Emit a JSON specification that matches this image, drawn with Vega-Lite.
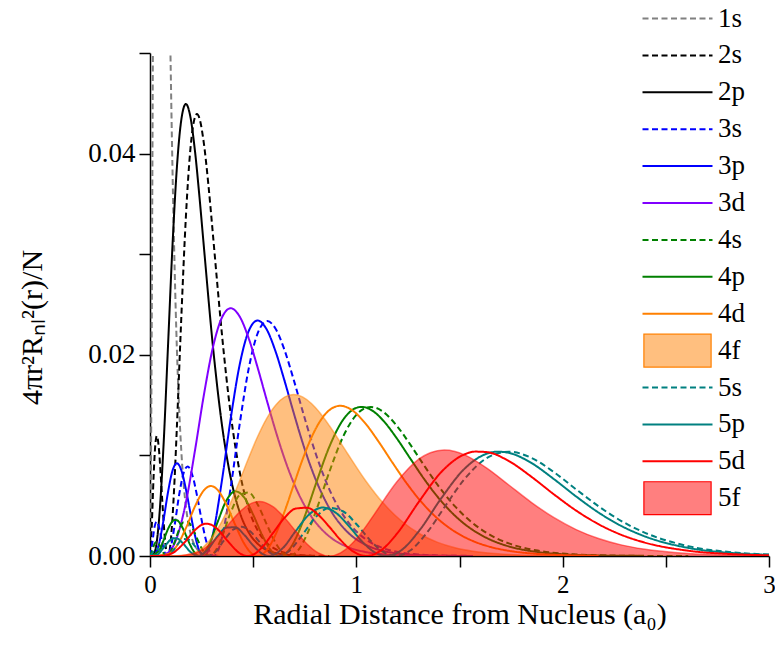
{
  "$schema": "https://vega.github.io/schema/vega-lite/v6.json",
  "width": 619,
  "height": 503,
  "autosize": {"type": "none"},
  "padding": {"left": 150, "top": 53, "right": 6, "bottom": 94},
  "background": "white",
  "config": {
    "view": {"stroke": null},
    "font": "Liberation Serif",
    "axis": {
      "grid": false,
      "domainColor": "black",
      "domainWidth": 1.5,
      "tickColor": "black",
      "tickWidth": 1.5,
      "tickSize": 11,
      "labelFont": "Liberation Serif",
      "labelFontSize": 27,
      "labelColor": "black",
      "titleFont": "Liberation Serif",
      "titleFontSize": 30,
      "titleFontWeight": "normal",
      "titleColor": "black"
    }
  },
  "data": {
    "values": [
      {"orbital": "1s", "r": 0, "p": 0},
      {"orbital": "1s", "r": 0.0043, "p": 0.00753},
      {"orbital": "1s", "r": 0.0087, "p": 0.02467},
      {"orbital": "1s", "r": 0.013, "p": 0.04544},
      {"orbital": "1s", "r": 0.0174, "p": 0.06614},
      {"orbital": "1s", "r": 0.0217, "p": 0.0846},
      {"orbital": "1s", "r": 0.0326, "p": 0.1155},
      {"orbital": "1s", "r": 0.0435, "p": 0.1245},
      {"orbital": "1s", "r": 0.0652, "p": 0.1031},
      {"orbital": "1s", "r": 0.087, "p": 0.0674},
      {"orbital": "1s", "r": 0.0978, "p": 0.05174},
      {"orbital": "1s", "r": 0.1087, "p": 0.03874},
      {"orbital": "1s", "r": 0.1196, "p": 0.02843},
      {"orbital": "1s", "r": 0.1304, "p": 0.02052},
      {"orbital": "1s", "r": 0.1413, "p": 0.01461},
      {"orbital": "1s", "r": 0.1522, "p": 0.01028},
      {"orbital": "1s", "r": 0.163, "p": 0.007156},
      {"orbital": "1s", "r": 0.1739, "p": 0.004938},
      {"orbital": "1s", "r": 0.1957, "p": 0.002299},
      {"orbital": "1s", "r": 0.2174, "p": 0.001044},
      {"orbital": "1s", "r": 0.2609, "p": 0.0002035},
      {"orbital": "1s", "r": 0.3043, "p": 0.0000375},
      {"orbital": "1s", "r": 0.3478, "p": 0.0000066},

      {"orbital": "2s", "r": 0, "p": 0},
      {"orbital": "2s", "r": 0.0087, "p": 0.003051},
      {"orbital": "2s", "r": 0.0174, "p": 0.007894},
      {"orbital": "2s", "r": 0.0261, "p": 0.011133},
      {"orbital": "2s", "r": 0.0332, "p": 0.011941},
      {"orbital": "2s", "r": 0.0435, "p": 0.010577},
      {"orbital": "2s", "r": 0.0522, "p": 0.007981},
      {"orbital": "2s", "r": 0.0609, "p": 0.005003},
      {"orbital": "2s", "r": 0.0696, "p": 0.002378},
      {"orbital": "2s", "r": 0.0783, "p": 0.000616},
      {"orbital": "2s", "r": 0.087, "p": 0},
      {"orbital": "2s", "r": 0.0978, "p": 0.000959},
      {"orbital": "2s", "r": 0.1087, "p": 0.003687},
      {"orbital": "2s", "r": 0.1196, "p": 0.007818},
      {"orbital": "2s", "r": 0.1304, "p": 0.012882},
      {"orbital": "2s", "r": 0.1522, "p": 0.023929},
      {"orbital": "2s", "r": 0.1739, "p": 0.033701},
      {"orbital": "2s", "r": 0.1957, "p": 0.040422},
      {"orbital": "2s", "r": 0.2174, "p": 0.043586},
      {"orbital": "2s", "r": 0.2277, "p": 0.043927},
      {"orbital": "2s", "r": 0.2391, "p": 0.043539},
      {"orbital": "2s", "r": 0.2609, "p": 0.041049},
      {"orbital": "2s", "r": 0.2826, "p": 0.03698},
      {"orbital": "2s", "r": 0.3043, "p": 0.032115},
      {"orbital": "2s", "r": 0.3261, "p": 0.027057},
      {"orbital": "2s", "r": 0.3478, "p": 0.022221},
      {"orbital": "2s", "r": 0.3913, "p": 0.014082},
      {"orbital": "2s", "r": 0.4348, "p": 0.008354},
      {"orbital": "2s", "r": 0.4783, "p": 0.004706},
      {"orbital": "2s", "r": 0.5217, "p": 0.002544},
      {"orbital": "2s", "r": 0.5652, "p": 0.001329},
      {"orbital": "2s", "r": 0.6087, "p": 0.000675},
      {"orbital": "2s", "r": 0.6957, "p": 0.000162},
      {"orbital": "2s", "r": 0.7826, "p": 0.0000363},
      {"orbital": "2s", "r": 0.8696, "p": 0.0000077},

      {"orbital": "2p", "r": 0, "p": 0},
      {"orbital": "2p", "r": 0.0217, "p": 0.000363},
      {"orbital": "2p", "r": 0.0435, "p": 0.003526},
      {"orbital": "2p", "r": 0.0652, "p": 0.010825},
      {"orbital": "2p", "r": 0.087, "p": 0.020751},
      {"orbital": "2p", "r": 0.1087, "p": 0.030728},
      {"orbital": "2p", "r": 0.1304, "p": 0.038647},
      {"orbital": "2p", "r": 0.1522, "p": 0.043426},
      {"orbital": "2p", "r": 0.1739, "p": 0.044935},
      {"orbital": "2p", "r": 0.1957, "p": 0.043656},
      {"orbital": "2p", "r": 0.2174, "p": 0.040357},
      {"orbital": "2p", "r": 0.2391, "p": 0.035838},
      {"orbital": "2p", "r": 0.2609, "p": 0.030787},
      {"orbital": "2p", "r": 0.3043, "p": 0.020982},
      {"orbital": "2p", "r": 0.3478, "p": 0.013168},
      {"orbital": "2p", "r": 0.3913, "p": 0.00776},
      {"orbital": "2p", "r": 0.4348, "p": 0.004351},
      {"orbital": "2p", "r": 0.4783, "p": 0.002343},
      {"orbital": "2p", "r": 0.5217, "p": 0.001221},
      {"orbital": "2p", "r": 0.6087, "p": 0.000306},
      {"orbital": "2p", "r": 0.6957, "p": 0.0000707},
      {"orbital": "2p", "r": 0.7826, "p": 0.0000153},

      {"orbital": "3s", "r": 0, "p": 0},
      {"orbital": "3s", "r": 0.0109, "p": 0.001266},
      {"orbital": "3s", "r": 0.0217, "p": 0.002866},
      {"orbital": "3s", "r": 0.0322, "p": 0.003412},
      {"orbital": "3s", "r": 0.0435, "p": 0.002904},
      {"orbital": "3s", "r": 0.0543, "p": 0.001845},
      {"orbital": "3s", "r": 0.0652, "p": 0.000783},
      {"orbital": "3s", "r": 0.0761, "p": 0.000118},
      {"orbital": "3s", "r": 0.0827, "p": 0},
      {"orbital": "3s", "r": 0.0978, "p": 0.000601},
      {"orbital": "3s", "r": 0.1196, "p": 0.003074},
      {"orbital": "3s", "r": 0.1413, "p": 0.006087},
      {"orbital": "3s", "r": 0.163, "p": 0.008263},
      {"orbital": "3s", "r": 0.1822, "p": 0.008897},
      {"orbital": "3s", "r": 0.2065, "p": 0.007951},
      {"orbital": "3s", "r": 0.2283, "p": 0.005958},
      {"orbital": "3s", "r": 0.25, "p": 0.003599},
      {"orbital": "3s", "r": 0.2717, "p": 0.00154},
      {"orbital": "3s", "r": 0.2935, "p": 0.000269},
      {"orbital": "3s", "r": 0.3086, "p": 0},
      {"orbital": "3s", "r": 0.3261, "p": 0.000359},
      {"orbital": "3s", "r": 0.3478, "p": 0.001747},
      {"orbital": "3s", "r": 0.3913, "p": 0.006841},
      {"orbital": "3s", "r": 0.4348, "p": 0.01314},
      {"orbital": "3s", "r": 0.4783, "p": 0.018628},
      {"orbital": "3s", "r": 0.5217, "p": 0.02213},
      {"orbital": "3s", "r": 0.5683, "p": 0.023356},
      {"orbital": "3s", "r": 0.6087, "p": 0.022593},
      {"orbital": "3s", "r": 0.6522, "p": 0.020459},
      {"orbital": "3s", "r": 0.6957, "p": 0.017572},
      {"orbital": "3s", "r": 0.7391, "p": 0.014452},
      {"orbital": "3s", "r": 0.7826, "p": 0.011464},
      {"orbital": "3s", "r": 0.8696, "p": 0.006604},
      {"orbital": "3s", "r": 0.9565, "p": 0.003465},
      {"orbital": "3s", "r": 1.0435, "p": 0.001691},
      {"orbital": "3s", "r": 1.1304, "p": 0.000778},
      {"orbital": "3s", "r": 1.2174, "p": 0.000341},
      {"orbital": "3s", "r": 1.3043, "p": 0.000144},
      {"orbital": "3s", "r": 1.4348, "p": 0.0000369},
      {"orbital": "3s", "r": 1.5652, "p": 0.0000089},

      {"orbital": "3p", "r": 0, "p": 0},
      {"orbital": "3p", "r": 0.0217, "p": 0.000127},
      {"orbital": "3p", "r": 0.0435, "p": 0.0012},
      {"orbital": "3p", "r": 0.0652, "p": 0.003526},
      {"orbital": "3p", "r": 0.087, "p": 0.006308},
      {"orbital": "3p", "r": 0.1087, "p": 0.008449},
      {"orbital": "3p", "r": 0.1304, "p": 0.009223},
      {"orbital": "3p", "r": 0.1522, "p": 0.008502},
      {"orbital": "3p", "r": 0.1739, "p": 0.006651},
      {"orbital": "3p", "r": 0.1957, "p": 0.004294},
      {"orbital": "3p", "r": 0.2174, "p": 0.002084},
      {"orbital": "3p", "r": 0.2391, "p": 0.000547},
      {"orbital": "3p", "r": 0.2609, "p": 0},
      {"orbital": "3p", "r": 0.2826, "p": 0.000548},
      {"orbital": "3p", "r": 0.3043, "p": 0.002111},
      {"orbital": "3p", "r": 0.3478, "p": 0.007395},
      {"orbital": "3p", "r": 0.3913, "p": 0.013683},
      {"orbital": "3p", "r": 0.4348, "p": 0.019035},
      {"orbital": "3p", "r": 0.4783, "p": 0.022357},
      {"orbital": "3p", "r": 0.5217, "p": 0.02341},
      {"orbital": "3p", "r": 0.5652, "p": 0.022533},
      {"orbital": "3p", "r": 0.6087, "p": 0.020324},
      {"orbital": "3p", "r": 0.6522, "p": 0.017404},
      {"orbital": "3p", "r": 0.6957, "p": 0.01428},
      {"orbital": "3p", "r": 0.7391, "p": 0.011306},
      {"orbital": "3p", "r": 0.7826, "p": 0.008683},
      {"orbital": "3p", "r": 0.8696, "p": 0.004748},
      {"orbital": "3p", "r": 0.9565, "p": 0.002393},
      {"orbital": "3p", "r": 1.0435, "p": 0.001131},
      {"orbital": "3p", "r": 1.1304, "p": 0.000507},
      {"orbital": "3p", "r": 1.2174, "p": 0.000218},
      {"orbital": "3p", "r": 1.3043, "p": 0.00009},
      {"orbital": "3p", "r": 1.4348, "p": 0.0000225},
      {"orbital": "3p", "r": 1.5652, "p": 0.0000053},

      {"orbital": "3d", "r": 0, "p": 0},
      {"orbital": "3d", "r": 0.0435, "p": 0.0000096},
      {"orbital": "3d", "r": 0.087, "p": 0.000315},
      {"orbital": "3d", "r": 0.1304, "p": 0.001845},
      {"orbital": "3d", "r": 0.1739, "p": 0.005321},
      {"orbital": "3d", "r": 0.2174, "p": 0.010421},
      {"orbital": "3d", "r": 0.2609, "p": 0.015977},
      {"orbital": "3d", "r": 0.3043, "p": 0.020685},
      {"orbital": "3d", "r": 0.3478, "p": 0.023662},
      {"orbital": "3d", "r": 0.3913, "p": 0.024629},
      {"orbital": "3d", "r": 0.4348, "p": 0.023795},
      {"orbital": "3d", "r": 0.4783, "p": 0.021641},
      {"orbital": "3d", "r": 0.5217, "p": 0.018727},
      {"orbital": "3d", "r": 0.5652, "p": 0.015543},
      {"orbital": "3d", "r": 0.6087, "p": 0.012448},
      {"orbital": "3d", "r": 0.6522, "p": 0.009668},
      {"orbital": "3d", "r": 0.6957, "p": 0.007311},
      {"orbital": "3d", "r": 0.7391, "p": 0.005401},
      {"orbital": "3d", "r": 0.7826, "p": 0.003907},
      {"orbital": "3d", "r": 0.8696, "p": 0.001938},
      {"orbital": "3d", "r": 0.9565, "p": 0.000905},
      {"orbital": "3d", "r": 1.0435, "p": 0.000402},
      {"orbital": "3d", "r": 1.1304, "p": 0.000171},
      {"orbital": "3d", "r": 1.2174, "p": 0.0000704},
      {"orbital": "3d", "r": 1.3043, "p": 0.0000281},
      {"orbital": "3d", "r": 1.4348, "p": 0.0000067},

      {"orbital": "4s", "r": 0, "p": 0},
      {"orbital": "4s", "r": 0.0109, "p": 0.000533},
      {"orbital": "4s", "r": 0.0217, "p": 0.001203},
      {"orbital": "4s", "r": 0.0317, "p": 0.001422},
      {"orbital": "4s", "r": 0.0435, "p": 0.001192},
      {"orbital": "4s", "r": 0.0543, "p": 0.000737},
      {"orbital": "4s", "r": 0.0652, "p": 0.000294},
      {"orbital": "4s", "r": 0.0814, "p": 0},
      {"orbital": "4s", "r": 0.0978, "p": 0.000307},
      {"orbital": "4s", "r": 0.1196, "p": 0.001398},
      {"orbital": "4s", "r": 0.1413, "p": 0.002619},
      {"orbital": "4s", "r": 0.163, "p": 0.003363},
      {"orbital": "4s", "r": 0.1848, "p": 0.003367},
      {"orbital": "4s", "r": 0.2065, "p": 0.002722},
      {"orbital": "4s", "r": 0.2283, "p": 0.001735},
      {"orbital": "4s", "r": 0.25, "p": 0.000774},
      {"orbital": "4s", "r": 0.2717, "p": 0.000144},
      {"orbital": "4s", "r": 0.2874, "p": 0},
      {"orbital": "4s", "r": 0.3152, "p": 0.000442},
      {"orbital": "4s", "r": 0.3478, "p": 0.001872},
      {"orbital": "4s", "r": 0.3913, "p": 0.004323},
      {"orbital": "4s", "r": 0.4348, "p": 0.00607},
      {"orbital": "4s", "r": 0.4783, "p": 0.006317},
      {"orbital": "4s", "r": 0.5217, "p": 0.005131},
      {"orbital": "4s", "r": 0.5652, "p": 0.003174},
      {"orbital": "4s", "r": 0.6087, "p": 0.001289},
      {"orbital": "4s", "r": 0.6522, "p": 0.000158},
      {"orbital": "4s", "r": 0.6747, "p": 0},
      {"orbital": "4s", "r": 0.7174, "p": 0.00056},
      {"orbital": "4s", "r": 0.7609, "p": 0.002154},
      {"orbital": "4s", "r": 0.8043, "p": 0.004458},
      {"orbital": "4s", "r": 0.8696, "p": 0.008383},
      {"orbital": "4s", "r": 0.9348, "p": 0.011816},
      {"orbital": "4s", "r": 1.0, "p": 0.014028},
      {"orbital": "4s", "r": 1.0435, "p": 0.014703},
      {"orbital": "4s", "r": 1.0696, "p": 0.014812},
      {"orbital": "4s", "r": 1.087, "p": 0.014773},
      {"orbital": "4s", "r": 1.1304, "p": 0.014329},
      {"orbital": "4s", "r": 1.1957, "p": 0.012957},
      {"orbital": "4s", "r": 1.2609, "p": 0.011092},
      {"orbital": "4s", "r": 1.3261, "p": 0.009073},
      {"orbital": "4s", "r": 1.3913, "p": 0.007143},
      {"orbital": "4s", "r": 1.4783, "p": 0.004936},
      {"orbital": "4s", "r": 1.5652, "p": 0.003249},
      {"orbital": "4s", "r": 1.6522, "p": 0.002051},
      {"orbital": "4s", "r": 1.7391, "p": 0.001249},
      {"orbital": "4s", "r": 1.8696, "p": 0.000561},
      {"orbital": "4s", "r": 2.0, "p": 0.000238},
      {"orbital": "4s", "r": 2.1739, "p": 0.0000702},
      {"orbital": "4s", "r": 2.3913, "p": 0.0000139},
      {"orbital": "4s", "r": 2.6087, "p": 0.0000025},

      {"orbital": "4p", "r": 0, "p": 0},
      {"orbital": "4p", "r": 0.0435, "p": 0.000528},
      {"orbital": "4p", "r": 0.0652, "p": 0.001528},
      {"orbital": "4p", "r": 0.087, "p": 0.002666},
      {"orbital": "4p", "r": 0.1087, "p": 0.003441},
      {"orbital": "4p", "r": 0.1196, "p": 0.003587},
      {"orbital": "4p", "r": 0.1304, "p": 0.003556},
      {"orbital": "4p", "r": 0.1522, "p": 0.00302},
      {"orbital": "4p", "r": 0.1739, "p": 0.002075},
      {"orbital": "4p", "r": 0.1957, "p": 0.001062},
      {"orbital": "4p", "r": 0.2174, "p": 0.0003},
      {"orbital": "4p", "r": 0.2403, "p": 0},
      {"orbital": "4p", "r": 0.2826, "p": 0.000973},
      {"orbital": "4p", "r": 0.3261, "p": 0.003292},
      {"orbital": "4p", "r": 0.3696, "p": 0.005489},
      {"orbital": "4p", "r": 0.413, "p": 0.006431},
      {"orbital": "4p", "r": 0.4565, "p": 0.005821},
      {"orbital": "4p", "r": 0.5, "p": 0.004104},
      {"orbital": "4p", "r": 0.5435, "p": 0.002085},
      {"orbital": "4p", "r": 0.587, "p": 0.000547},
      {"orbital": "4p", "r": 0.6292, "p": 0},
      {"orbital": "4p", "r": 0.6739, "p": 0.000611},
      {"orbital": "4p", "r": 0.7174, "p": 0.002243},
      {"orbital": "4p", "r": 0.7609, "p": 0.004569},
      {"orbital": "4p", "r": 0.8043, "p": 0.007191},
      {"orbital": "4p", "r": 0.8696, "p": 0.010877},
      {"orbital": "4p", "r": 0.9348, "p": 0.013509},
      {"orbital": "4p", "r": 1.0, "p": 0.014725},
      {"orbital": "4p", "r": 1.0261, "p": 0.014821},
      {"orbital": "4p", "r": 1.0435, "p": 0.014774},
      {"orbital": "4p", "r": 1.087, "p": 0.014313},
      {"orbital": "4p", "r": 1.1304, "p": 0.01346},
      {"orbital": "4p", "r": 1.1957, "p": 0.011707},
      {"orbital": "4p", "r": 1.2609, "p": 0.009705},
      {"orbital": "4p", "r": 1.3261, "p": 0.007727},
      {"orbital": "4p", "r": 1.3913, "p": 0.005944},
      {"orbital": "4p", "r": 1.4783, "p": 0.004001},
      {"orbital": "4p", "r": 1.5652, "p": 0.002576},
      {"orbital": "4p", "r": 1.6522, "p": 0.001596},
      {"orbital": "4p", "r": 1.7391, "p": 0.000956},
      {"orbital": "4p", "r": 1.8696, "p": 0.00042},
      {"orbital": "4p", "r": 2.0, "p": 0.000175},
      {"orbital": "4p", "r": 2.1739, "p": 0.0000507},
      {"orbital": "4p", "r": 2.3913, "p": 0.0000098},

      {"orbital": "4d", "r": 0, "p": 0},
      {"orbital": "4d", "r": 0.087, "p": 0.000184},
      {"orbital": "4d", "r": 0.1304, "p": 0.001028},
      {"orbital": "4d", "r": 0.1739, "p": 0.002767},
      {"orbital": "4d", "r": 0.2174, "p": 0.004901},
      {"orbital": "4d", "r": 0.2609, "p": 0.006522},
      {"orbital": "4d", "r": 0.2952, "p": 0.006958},
      {"orbital": "4d", "r": 0.3261, "p": 0.00661},
      {"orbital": "4d", "r": 0.3696, "p": 0.00514},
      {"orbital": "4d", "r": 0.413, "p": 0.0031},
      {"orbital": "4d", "r": 0.4565, "p": 0.001234},
      {"orbital": "4d", "r": 0.4891, "p": 0.000321},
      {"orbital": "4d", "r": 0.5217, "p": 0},
      {"orbital": "4d", "r": 0.5652, "p": 0.000566},
      {"orbital": "4d", "r": 0.6087, "p": 0.002142},
      {"orbital": "4d", "r": 0.6522, "p": 0.004422},
      {"orbital": "4d", "r": 0.6957, "p": 0.007023},
      {"orbital": "4d", "r": 0.7391, "p": 0.009576},
      {"orbital": "4d", "r": 0.7826, "p": 0.011785},
      {"orbital": "4d", "r": 0.8261, "p": 0.013458},
      {"orbital": "4d", "r": 0.8696, "p": 0.014503},
      {"orbital": "4d", "r": 0.9222, "p": 0.014932},
      {"orbital": "4d", "r": 0.9783, "p": 0.014511},
      {"orbital": "4d", "r": 1.0435, "p": 0.013187},
      {"orbital": "4d", "r": 1.1087, "p": 0.011342},
      {"orbital": "4d", "r": 1.1739, "p": 0.00932},
      {"orbital": "4d", "r": 1.2391, "p": 0.007368},
      {"orbital": "4d", "r": 1.3043, "p": 0.005635},
      {"orbital": "4d", "r": 1.3913, "p": 0.00377},
      {"orbital": "4d", "r": 1.4783, "p": 0.002414},
      {"orbital": "4d", "r": 1.5652, "p": 0.001489},
      {"orbital": "4d", "r": 1.6522, "p": 0.000889},
      {"orbital": "4d", "r": 1.7391, "p": 0.000516},
      {"orbital": "4d", "r": 1.8696, "p": 0.000218},
      {"orbital": "4d", "r": 2.0, "p": 0.0000877},
      {"orbital": "4d", "r": 2.1739, "p": 0.0000244},

      {"orbital": "4f", "r": 0, "p": 0},
      {"orbital": "4f", "r": 0.087, "p": 0.000001},
      {"orbital": "4f", "r": 0.1739, "p": 0.0000988},
      {"orbital": "4f", "r": 0.2609, "p": 0.000932},
      {"orbital": "4f", "r": 0.3478, "p": 0.003424},
      {"orbital": "4f", "r": 0.3913, "p": 0.005328},
      {"orbital": "4f", "r": 0.4348, "p": 0.007507},
      {"orbital": "4f", "r": 0.4783, "p": 0.00976},
      {"orbital": "4f", "r": 0.5217, "p": 0.011875},
      {"orbital": "4f", "r": 0.5652, "p": 0.013663},
      {"orbital": "4f", "r": 0.6087, "p": 0.014993},
      {"orbital": "4f", "r": 0.6522, "p": 0.015793},
      {"orbital": "4f", "r": 0.6957, "p": 0.016052},
      {"orbital": "4f", "r": 0.7391, "p": 0.015814},
      {"orbital": "4f", "r": 0.7826, "p": 0.015152},
      {"orbital": "4f", "r": 0.8261, "p": 0.014164},
      {"orbital": "4f", "r": 0.8696, "p": 0.012949},
      {"orbital": "4f", "r": 0.9565, "p": 0.010211},
      {"orbital": "4f", "r": 1.0435, "p": 0.007535},
      {"orbital": "4f", "r": 1.1304, "p": 0.005259},
      {"orbital": "4f", "r": 1.2174, "p": 0.0035},
      {"orbital": "4f", "r": 1.3043, "p": 0.002236},
      {"orbital": "4f", "r": 1.3913, "p": 0.001379},
      {"orbital": "4f", "r": 1.4783, "p": 0.000824},
      {"orbital": "4f", "r": 1.5652, "p": 0.000479},
      {"orbital": "4f", "r": 1.6522, "p": 0.000271},
      {"orbital": "4f", "r": 1.7391, "p": 0.000151},
      {"orbital": "4f", "r": 1.8696, "p": 0.00006},
      {"orbital": "4f", "r": 2.0, "p": 0.0000229},
      {"orbital": "4f", "r": 2.1739, "p": 0.000006},

      {"orbital": "5s", "r": 0, "p": 0},
      {"orbital": "5s", "r": 0.0109, "p": 0.000273},
      {"orbital": "5s", "r": 0.0217, "p": 0.000615},
      {"orbital": "5s", "r": 0.0326, "p": 0.000723},
      {"orbital": "5s", "r": 0.0435, "p": 0.000603},
      {"orbital": "5s", "r": 0.0543, "p": 0.000368},
      {"orbital": "5s", "r": 0.0652, "p": 0.000142},
      {"orbital": "5s", "r": 0.0808, "p": 0},
      {"orbital": "5s", "r": 0.0978, "p": 0.00017},
      {"orbital": "5s", "r": 0.1196, "p": 0.000738},
      {"orbital": "5s", "r": 0.1413, "p": 0.001349},
      {"orbital": "5s", "r": 0.163, "p": 0.001688},
      {"orbital": "5s", "r": 0.1848, "p": 0.001632},
      {"orbital": "5s", "r": 0.2065, "p": 0.001253},
      {"orbital": "5s", "r": 0.2283, "p": 0.00073},
      {"orbital": "5s", "r": 0.25, "p": 0.000267},
      {"orbital": "5s", "r": 0.2795, "p": 0},
      {"orbital": "5s", "r": 0.3152, "p": 0.000383},
      {"orbital": "5s", "r": 0.3587, "p": 0.001541},
      {"orbital": "5s", "r": 0.4022, "p": 0.002611},
      {"orbital": "5s", "r": 0.4457, "p": 0.002918},
      {"orbital": "5s", "r": 0.4891, "p": 0.002381},
      {"orbital": "5s", "r": 0.5326, "p": 0.001355},
      {"orbital": "5s", "r": 0.5761, "p": 0.000412},
      {"orbital": "5s", "r": 0.623, "p": 0},
      {"orbital": "5s", "r": 0.6739, "p": 0.000485},
      {"orbital": "5s", "r": 0.7391, "p": 0.002127},
      {"orbital": "5s", "r": 0.8043, "p": 0.003886},
      {"orbital": "5s", "r": 0.8696, "p": 0.00478},
      {"orbital": "5s", "r": 0.9348, "p": 0.00445},
      {"orbital": "5s", "r": 1.0, "p": 0.003177},
      {"orbital": "5s", "r": 1.0652, "p": 0.001607},
      {"orbital": "5s", "r": 1.1304, "p": 0.000402},
      {"orbital": "5s", "r": 1.1906, "p": 0},
      {"orbital": "5s", "r": 1.2609, "p": 0.000544},
      {"orbital": "5s", "r": 1.3478, "p": 0.002469},
      {"orbital": "5s", "r": 1.4348, "p": 0.005081},
      {"orbital": "5s", "r": 1.5217, "p": 0.007582},
      {"orbital": "5s", "r": 1.6304, "p": 0.009709},
      {"orbital": "5s", "r": 1.7391, "p": 0.010372},
      {"orbital": "5s", "r": 1.8478, "p": 0.009761},
      {"orbital": "5s", "r": 1.9565, "p": 0.00835},
      {"orbital": "5s", "r": 2.0652, "p": 0.006625},
      {"orbital": "5s", "r": 2.1739, "p": 0.004942},
      {"orbital": "5s", "r": 2.2826, "p": 0.003502},
      {"orbital": "5s", "r": 2.3913, "p": 0.002376},
      {"orbital": "5s", "r": 2.6087, "p": 0.00098},
      {"orbital": "5s", "r": 2.8261, "p": 0.000359},
      {"orbital": "5s", "r": 3.0435, "p": 0.00012},

      {"orbital": "5p", "r": 0, "p": 0},
      {"orbital": "5p", "r": 0.0326, "p": 0.000114},
      {"orbital": "5p", "r": 0.0652, "p": 0.000791},
      {"orbital": "5p", "r": 0.0978, "p": 0.001587},
      {"orbital": "5p", "r": 0.1141, "p": 0.001769},
      {"orbital": "5p", "r": 0.1304, "p": 0.001742},
      {"orbital": "5p", "r": 0.163, "p": 0.001178},
      {"orbital": "5p", "r": 0.1957, "p": 0.000407},
      {"orbital": "5p", "r": 0.2328, "p": 0},
      {"orbital": "5p", "r": 0.2826, "p": 0.000708},
      {"orbital": "5p", "r": 0.3261, "p": 0.001932},
      {"orbital": "5p", "r": 0.3696, "p": 0.002818},
      {"orbital": "5p", "r": 0.413, "p": 0.002855},
      {"orbital": "5p", "r": 0.4565, "p": 0.002109},
      {"orbital": "5p", "r": 0.5, "p": 0.001048},
      {"orbital": "5p", "r": 0.5435, "p": 0.000224},
      {"orbital": "5p", "r": 0.5778, "p": 0},
      {"orbital": "5p", "r": 0.6413, "p": 0.000736},
      {"orbital": "5p", "r": 0.7065, "p": 0.002491},
      {"orbital": "5p", "r": 0.7717, "p": 0.004135},
      {"orbital": "5p", "r": 0.837, "p": 0.004815},
      {"orbital": "5p", "r": 0.9022, "p": 0.00427},
      {"orbital": "5p", "r": 0.9674, "p": 0.002888},
      {"orbital": "5p", "r": 1.0326, "p": 0.00134},
      {"orbital": "5p", "r": 1.087, "p": 0.000387},
      {"orbital": "5p", "r": 1.146, "p": 0},
      {"orbital": "5p", "r": 1.2174, "p": 0.000562},
      {"orbital": "5p", "r": 1.3043, "p": 0.002501},
      {"orbital": "5p", "r": 1.413, "p": 0.005778},
      {"orbital": "5p", "r": 1.5217, "p": 0.008622},
      {"orbital": "5p", "r": 1.6304, "p": 0.010159},
      {"orbital": "5p", "r": 1.6848, "p": 0.010372},
      {"orbital": "5p", "r": 1.7391, "p": 0.010254},
      {"orbital": "5p", "r": 1.8478, "p": 0.009254},
      {"orbital": "5p", "r": 1.9565, "p": 0.007661},
      {"orbital": "5p", "r": 2.0652, "p": 0.005919},
      {"orbital": "5p", "r": 2.1739, "p": 0.00432},
      {"orbital": "5p", "r": 2.2826, "p": 0.003004},
      {"orbital": "5p", "r": 2.3913, "p": 0.002005},
      {"orbital": "5p", "r": 2.6087, "p": 0.000806},
      {"orbital": "5p", "r": 2.8261, "p": 0.000289},
      {"orbital": "5p", "r": 3.0435, "p": 0.0000949},

      {"orbital": "5d", "r": 0, "p": 0},
      {"orbital": "5d", "r": 0.0543, "p": 0.0000107},
      {"orbital": "5d", "r": 0.1087, "p": 0.000282},
      {"orbital": "5d", "r": 0.163, "p": 0.001254},
      {"orbital": "5d", "r": 0.2174, "p": 0.002561},
      {"orbital": "5d", "r": 0.25, "p": 0.003085},
      {"orbital": "5d", "r": 0.2717, "p": 0.003211},
      {"orbital": "5d", "r": 0.2989, "p": 0.003088},
      {"orbital": "5d", "r": 0.3261, "p": 0.002683},
      {"orbital": "5d", "r": 0.3804, "p": 0.001396},
      {"orbital": "5d", "r": 0.4348, "p": 0.000274},
      {"orbital": "5d", "r": 0.4733, "p": 0},
      {"orbital": "5d", "r": 0.5109, "p": 0.000262},
      {"orbital": "5d", "r": 0.5435, "p": 0.000865},
      {"orbital": "5d", "r": 0.5978, "p": 0.00233},
      {"orbital": "5d", "r": 0.6522, "p": 0.0038},
      {"orbital": "5d", "r": 0.7065, "p": 0.004715},
      {"orbital": "5d", "r": 0.7609, "p": 0.004798},
      {"orbital": "5d", "r": 0.8152, "p": 0.004094},
      {"orbital": "5d", "r": 0.8696, "p": 0.002889},
      {"orbital": "5d", "r": 0.9239, "p": 0.00158},
      {"orbital": "5d", "r": 0.9783, "p": 0.000539},
      {"orbital": "5d", "r": 1.0485, "p": 0},
      {"orbital": "5d", "r": 1.1196, "p": 0.000555},
      {"orbital": "5d", "r": 1.1957, "p": 0.002187},
      {"orbital": "5d", "r": 1.3043, "p": 0.005425},
      {"orbital": "5d", "r": 1.413, "p": 0.008374},
      {"orbital": "5d", "r": 1.5217, "p": 0.01008},
      {"orbital": "5d", "r": 1.5761, "p": 0.010377},
      {"orbital": "5d", "r": 1.6304, "p": 0.010333},
      {"orbital": "5d", "r": 1.7391, "p": 0.009436},
      {"orbital": "5d", "r": 1.8478, "p": 0.007888},
      {"orbital": "5d", "r": 1.9565, "p": 0.006144},
      {"orbital": "5d", "r": 2.0652, "p": 0.004515},
      {"orbital": "5d", "r": 2.1739, "p": 0.00316},
      {"orbital": "5d", "r": 2.2826, "p": 0.00212},
      {"orbital": "5d", "r": 2.3913, "p": 0.001372},
      {"orbital": "5d", "r": 2.6087, "p": 0.000524},
      {"orbital": "5d", "r": 2.8261, "p": 0.000181},
      {"orbital": "5d", "r": 3.0435, "p": 0.0000573},

      {"orbital": "5f", "r": 0, "p": 0},
      {"orbital": "5f", "r": 0.1087, "p": 0.0000041},
      {"orbital": "5f", "r": 0.2174, "p": 0.000285},
      {"orbital": "5f", "r": 0.2717, "p": 0.000865},
      {"orbital": "5f", "r": 0.3261, "p": 0.001863},
      {"orbital": "5f", "r": 0.3804, "p": 0.003142},
      {"orbital": "5f", "r": 0.4348, "p": 0.004382},
      {"orbital": "5f", "r": 0.4783, "p": 0.0051},
      {"orbital": "5f", "r": 0.5301, "p": 0.005427},
      {"orbital": "5f", "r": 0.5978, "p": 0.00488},
      {"orbital": "5f", "r": 0.6522, "p": 0.0038},
      {"orbital": "5f", "r": 0.7065, "p": 0.002459},
      {"orbital": "5f", "r": 0.7609, "p": 0.0012},
      {"orbital": "5f", "r": 0.8152, "p": 0.000316},
      {"orbital": "5f", "r": 0.8696, "p": 0},
      {"orbital": "5f", "r": 0.9239, "p": 0.000316},
      {"orbital": "5f", "r": 0.9783, "p": 0.001212},
      {"orbital": "5f", "r": 1.0326, "p": 0.002549},
      {"orbital": "5f", "r": 1.087, "p": 0.004144},
      {"orbital": "5f", "r": 1.1957, "p": 0.007352},
      {"orbital": "5f", "r": 1.3043, "p": 0.009645},
      {"orbital": "5f", "r": 1.3587, "p": 0.010263},
      {"orbital": "5f", "r": 1.4264, "p": 0.010528},
      {"orbital": "5f", "r": 1.4783, "p": 0.010389},
      {"orbital": "5f", "r": 1.5217, "p": 0.010081},
      {"orbital": "5f", "r": 1.6304, "p": 0.008765},
      {"orbital": "5f", "r": 1.7391, "p": 0.007058},
      {"orbital": "5f", "r": 1.8478, "p": 0.005338},
      {"orbital": "5f", "r": 1.9565, "p": 0.00383},
      {"orbital": "5f", "r": 2.0652, "p": 0.002627},
      {"orbital": "5f", "r": 2.1739, "p": 0.001734},
      {"orbital": "5f", "r": 2.2826, "p": 0.001106},
      {"orbital": "5f", "r": 2.3913, "p": 0.000685},
      {"orbital": "5f", "r": 2.6087, "p": 0.000243},
      {"orbital": "5f", "r": 2.8261, "p": 0.0000789},
      {"orbital": "5f", "r": 3.0435, "p": 0.0000238}
    ]
  },
  "encoding": {
    "x": {
      "field": "r",
      "type": "quantitative",
      "scale": {"domain": [0, 3], "nice": false, "zero": true},
      "axis": {
        "title": "Radial Distance from Nucleus (a₀)",
        "values": [0, 0.5, 1, 1.5, 2, 2.5, 3],
        "labelExpr": "datum.value % 1 === 0 ? format(datum.value, 'd') : ''",
        "labelFontSize": 25,
        "labelPadding": 5,
        "labelFlush": false,
        "titleBaseline": "top",
        "titleY": 43
      }
    },
    "y": {
      "field": "p",
      "type": "quantitative",
      "scale": {"domain": [0, 0.05], "nice": false, "zero": true},
      "axis": {
        "title": "4πr²Rₙₗ²(r)/N",
        "values": [0, 0.01, 0.02, 0.03, 0.04, 0.05],
        "labelExpr": "round(datum.value * 100) % 2 === 0 ? format(datum.value, '.2f') : ''",
        "labelPadding": 4,
        "labelFlush": false,
        "titleAngle": -90,
        "titleBaseline": "bottom",
        "titleAlign": "center",
        "titleX": -103,
        "titleY": 274
      }
    },
    "color": {
      "field": "orbital",
      "type": "nominal",
      "scale": {
        "domain": ["1s", "2s", "2p", "3s", "3p", "3d", "4s", "4p", "4d", "4f", "5s", "5p", "5d", "5f"],
        "range": ["#808080", "#000000", "#000000", "#0000ff", "#0000ff", "#8000ff", "#008000", "#008000", "#ff8000", "#ff8000", "#008080", "#008080", "#ff0000", "#ff0000"]
      },
      "legend": {
        "title": null,
        "orient": "none",
        "legendX": 514,
        "legendY": -48,
        "padding": 0,
        "symbolType": "stroke",
        "symbolSize": 4900,
        "symbolStrokeWidth": 2,
        "labelFont": "Liberation Serif",
        "labelFontSize": 27,
        "labelColor": "black",
        "labelOffset": 27,
        "labelLimit": 100,
        "rowPadding": -2.1,
        "gridAlign": "all",
        "encode": {
          "symbols": {
            "update": {
              "shape": {"signal": "(datum.value === '4f' || datum.value === '5f') ? 'M-0.96,-0.47H0.96V0.47H-0.96Z' : 'stroke'"},
              "fill": {"signal": "datum.value === '4f' ? '#ff8000' : datum.value === '5f' ? '#ff0000' : 'transparent'"},
              "fillOpacity": {"value": 0.5},
              "stroke": {"signal": "datum.value === '4f' ? '#9c7f66' : datum.value === '5f' ? '#a87474' : scale('color', datum.value)"},
              "strokeWidth": {"signal": "(datum.value === '4f' || datum.value === '5f') ? 1.2 : 2"},
              "strokeDash": {"signal": "indexof(['1s','2s','3s','4s','5s'], datum.value) >= 0 ? [6, 3.5] : [1, 0]"},
              "opacity": {"value": 1}
            }
          }
        }
      }
    }
  },
  "layer": [
    {
      "transform": [{"filter": {"field": "orbital", "oneOf": ["1s", "2s", "2p", "3s", "3p", "3d", "4s", "4p", "4d"]}}],
      "mark": {"type": "line", "interpolate": "monotone", "strokeWidth": 2, "clip": true},
      "encoding": {
        "strokeDash": {
          "field": "orbital",
          "type": "nominal",
          "scale": {
            "domain": ["1s", "2s", "2p", "3s", "3p", "3d", "4s", "4p", "4d", "5s", "5p", "5d"],
            "range": [[6, 3.5], [6, 3.5], [1, 0], [6, 3.5], [1, 0], [1, 0], [6, 3.5], [1, 0], [1, 0], [6, 3.5], [1, 0], [1, 0]]
          },
          "legend": null
        }
      }
    },
    {
      "transform": [{"filter": {"field": "orbital", "equal": "4f"}}],
      "mark": {"type": "area", "interpolate": "monotone", "fillOpacity": 0.5, "clip": true, "line": {"strokeWidth": 1.5, "opacity": 0.5}}
    },
    {
      "transform": [{"filter": {"field": "orbital", "oneOf": ["5s", "5p", "5d"]}}],
      "mark": {"type": "line", "interpolate": "monotone", "strokeWidth": 2, "clip": true},
      "encoding": {
        "strokeDash": {
          "field": "orbital",
          "type": "nominal",
          "scale": {
            "domain": ["1s", "2s", "2p", "3s", "3p", "3d", "4s", "4p", "4d", "5s", "5p", "5d"],
            "range": [[6, 3.5], [6, 3.5], [1, 0], [6, 3.5], [1, 0], [1, 0], [6, 3.5], [1, 0], [1, 0], [6, 3.5], [1, 0], [1, 0]]
          },
          "legend": null
        }
      }
    },
    {
      "transform": [{"filter": {"field": "orbital", "equal": "5f"}}],
      "mark": {"type": "area", "interpolate": "monotone", "fillOpacity": 0.5, "clip": true, "line": {"strokeWidth": 1.5, "opacity": 0.5}}
    }
  ]
}
